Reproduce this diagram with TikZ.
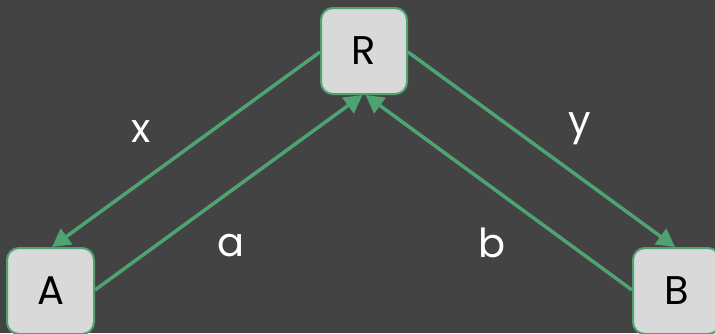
\documentclass[tikz,border=0pt]{standalone}
\usepackage{fontspec}
\setmainfont{Poppins}
\usetikzlibrary{arrows.meta}
\definecolor{bg}{HTML}{434343}
\definecolor{boxfill}{HTML}{D9D9D9}
\definecolor{edge}{HTML}{4FA373}
\tikzset{
  box/.style={draw=edge, line width=2pt, fill=boxfill, rounded corners=12pt,
    minimum width=86pt, minimum height=86pt, inner sep=0pt, text=black,
    font=\fontsize{40}{42}\selectfont},
  conn/.style={draw=edge, line width=3.5pt, -{Triangle[length=18pt,width=19pt]}, shorten >=0pt},
  lbl/.style={text=white, anchor=base, inner sep=0pt, font=\fontsize{40}{42}\selectfont}
}
\begin{document}
\begin{tikzpicture}[x=1pt,y=-1pt]
\fill[bg] (0,0) rectangle (715,333);
\useasboundingbox (0,0) rectangle (715,333);
\node[box] (R) at (364,51) {R};
\node[box, minimum width=87pt] (A) at (50.5,291) {A};
\node[box, minimum width=87pt] (B) at (676.5,291) {B};
\draw[conn] ([yshift=-1pt]R.west) -- ([xshift=1.5pt]A.north);
\draw[conn] ([yshift=-1pt]R.east) -- ([xshift=-1.5pt]B.north);
\draw[conn] ([yshift=1pt]A.east) -- ([xshift=-1.5pt]R.south);
\draw[conn] ([yshift=1pt]B.west) -- ([xshift=1.5pt]R.south);
\node[lbl] (lx) at (141,142) {x};
\node[lbl] (ly) at (580,134) {y};
\node[lbl] (la) at (231,256) {a};
\node[lbl] (lb) at (492,257) {b};
\end{tikzpicture}
\end{document}
